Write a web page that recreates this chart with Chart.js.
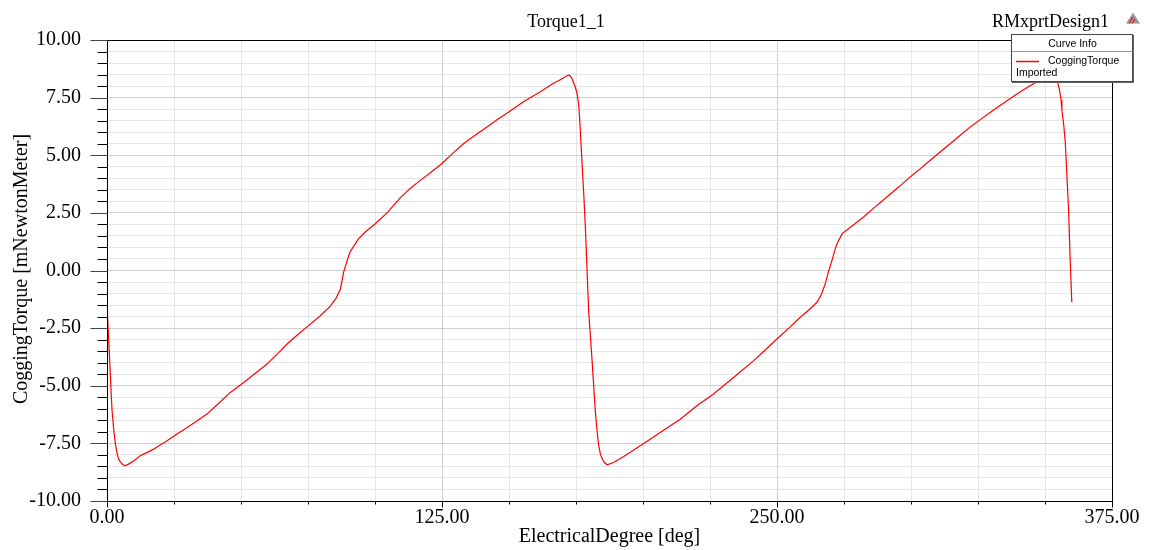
<!DOCTYPE html>
<html><head><meta charset="utf-8">
<script src="https://cdn.jsdelivr.net/npm/chart.js@4.4.1/dist/chart.umd.min.js"></script>
<style>html,body{margin:0;padding:0;background:#fff;} #wrap{width:1151px;height:550px;}</style>
</head><body><div id="wrap"><canvas id="c" width="1151" height="550"></canvas></div>
<script>
const chartTitle = 'Torque1_1';
const designName = 'RMxprtDesign1';
const xAxisTitle = 'ElectricalDegree [deg]';
const yAxisTitle = 'CoggingTorque [mNewtonMeter]';
const legendHeader = 'Curve Info';
const seriesName = 'CoggingTorque';
const seriesNote = 'Imported';
const xTickLabels = ['0.00', '125.00', '250.00', '375.00'];
const yTickLabels = ['-10.00', '-7.50', '-5.00', '-2.50', '0.00', '2.50', '5.00', '7.50', '10.00'];

const degrees = [0.0,0.5,1.0,1.5,1.9,2.5,3.1,3.7,4.3,5.0,5.9,6.8,8.0,9.9,12.4,14.8,17.4,20.0,22.4,26.0,29.9,33.5,37.3,41.5,46.0,51.0,55.5,59.7,63.5,67.2,71.2,75.2,79.6,83.3,85.5,87.1,88.3,89.6,90.5,91.4,93.9,96.4,100.1,104.5,109.4,113.0,116.9,121.0,125.0,129.0,133.1,137.5,141.8,145.8,149.9,155.4,161.7,166.6,169.5,171.6,172.5,173.5,174.7,175.4,176.0,176.5,177.2,177.9,178.5,179.1,179.7,180.4,181.0,181.6,182.2,182.8,183.4,184.1,184.7,185.6,186.6,189.0,192.8,196.4,200.0,206.4,213.9,220.1,226.3,233.8,241.3,245.6,250.0,254.4,258.7,262.0,264.9,266.5,268.0,269.2,270.5,271.5,272.4,274.3,277.4,282.3,286.5,291.0,295.5,299.7,303.5,307.2,311.0,314.7,318.4,322.1,326.5,330.8,335.8,340.8,344.0,347.0,350.0,352.0,353.3,354.5,355.4,356.0,356.3,357.0,357.6,358.2,358.8,359.4,360.0];
const torque = [-1.5,-2.7,-3.9,-5.2,-6.1,-6.9,-7.5,-7.9,-8.17,-8.3,-8.42,-8.47,-8.4,-8.26,-8.04,-7.9,-7.75,-7.56,-7.39,-7.1,-6.81,-6.53,-6.23,-5.78,-5.29,-4.86,-4.45,-4.06,-3.63,-3.19,-2.78,-2.39,-1.96,-1.55,-1.2,-0.8,-0.07,0.43,0.75,0.94,1.38,1.67,2.03,2.5,3.15,3.55,3.91,4.27,4.64,5.08,5.51,5.88,6.23,6.56,6.88,7.32,7.75,8.12,8.3,8.45,8.48,8.33,7.97,7.68,7.2,6.3,4.78,3.3,1.88,0.1,-1.74,-2.9,-3.91,-5.0,-6.09,-6.9,-7.54,-7.97,-8.15,-8.33,-8.43,-8.33,-8.07,-7.8,-7.53,-7.03,-6.45,-5.87,-5.36,-4.64,-3.91,-3.45,-2.97,-2.5,-2.03,-1.7,-1.38,-1.05,-0.58,-0.05,0.43,0.85,1.16,1.6,1.88,2.32,2.75,3.19,3.63,4.06,4.42,4.78,5.15,5.51,5.87,6.23,6.6,6.96,7.36,7.75,7.98,8.19,8.38,8.47,8.42,8.26,7.85,7.4,6.96,6.3,5.51,4.06,2.61,0.43,-1.38];

const SERIF = '"Liberation Serif", "Times New Roman", serif';
const SANS = '"Liberation Sans", Arial, sans-serif';
const isMajorX = v => Math.abs(v / 125 - Math.round(v / 125)) < 1e-6;
const isMajorY = v => Math.abs(v / 2.5 - Math.round(v / 2.5)) < 1e-6;

const deco = {
  id: 'deco',
  afterDraw(chart) {
    const { ctx, chartArea: a, scales: { x, y } } = chart;
    ctx.save();
    // frame
    ctx.strokeStyle = '#000'; ctx.lineWidth = 1;
    const L = Math.round(a.left) + 0.5, T = Math.round(a.top) + 0.5;
    const R = Math.round(a.right) + 0.5, B = Math.round(a.bottom) + 0.5;
    ctx.beginPath(); ctx.moveTo(L, T); ctx.lineTo(R, T); ctx.lineTo(R, B); ctx.lineTo(L, B); ctx.closePath(); ctx.stroke();
    // y ticks
    y.ticks.forEach(t => {
      const py = Math.round(y.getPixelForValue(t.value)) + 0.5;
      const major = isMajorY(t.value);
      ctx.strokeStyle = major ? '#444' : '#000';
      ctx.beginPath(); ctx.moveTo(L - (major ? 17 : 10), py); ctx.lineTo(L, py); ctx.stroke();
    });
    // x ticks
    x.ticks.forEach(t => {
      const px = Math.round(x.getPixelForValue(t.value)) + 0.5;
      const major = isMajorX(t.value);
      ctx.strokeStyle = '#000';
      ctx.beginPath(); ctx.moveTo(px, B); ctx.lineTo(px, B + (major ? 6 : 3)); ctx.stroke();
    });
    // titles
    ctx.fillStyle = '#000';
    ctx.font = '18px ' + SERIF;
    ctx.textBaseline = 'alphabetic';
    ctx.textAlign = 'center';
    ctx.fillText(chartTitle, 566, 27);
    ctx.textAlign = 'left';
    ctx.fillText(designName, 992, 27);
    ctx.font = '20px ' + SERIF;
    ctx.textAlign = 'center';
    ctx.fillText(xAxisTitle, (a.left + a.right) / 2, 542);
    ctx.save();
    ctx.translate(27, 269);
    ctx.rotate(-Math.PI / 2);
    ctx.fillText(yAxisTitle, 0, 0);
    ctx.restore();
    // icon
    ctx.fillStyle = '#9a9a9a';
    ctx.beginPath(); ctx.moveTo(1133, 12.5); ctx.lineTo(1140, 23.5); ctx.lineTo(1126, 23.5); ctx.closePath(); ctx.fill();
    ctx.strokeStyle = '#e02020'; ctx.lineWidth = 1.3;
    ctx.beginPath(); ctx.moveTo(1129, 23.5); ctx.lineTo(1133, 17); ctx.moveTo(1132, 23.5); ctx.lineTo(1135, 19); ctx.stroke();
    // legend box
    ctx.fillStyle = '#fff';
    ctx.fillRect(1012, 34, 121, 48);
    ctx.lineWidth = 1;
    ctx.strokeStyle = '#444';
    ctx.strokeRect(1011.5, 34.5, 121, 47);
    ctx.strokeStyle = '#999';
    ctx.beginPath(); ctx.moveTo(1012, 51.5); ctx.lineTo(1133, 51.5); ctx.stroke();
    ctx.strokeStyle = '#666';
    ctx.beginPath(); ctx.moveTo(1133.5, 35); ctx.lineTo(1133.5, 82.5); ctx.lineTo(1012, 82.5); ctx.stroke();
    ctx.fillStyle = '#000';
    ctx.font = '10.5px ' + SANS;
    ctx.textBaseline = 'middle';
    ctx.textAlign = 'center';
    ctx.fillText(legendHeader, 1072.5, 44);
    ctx.textAlign = 'left';
    ctx.fillText(seriesName, 1048, 61.5);
    ctx.fillText(seriesNote, 1016, 73);
    ctx.strokeStyle = '#ff0000'; ctx.lineWidth = 1.5;
    ctx.beginPath(); ctx.moveTo(1016, 61.5); ctx.lineTo(1039, 61.5); ctx.stroke();
    ctx.restore();
  }
};

new Chart(document.getElementById('c'), {
  type: 'scatter',
  data: {
    datasets: [{
      label: seriesName,
      data: degrees.map((d, i) => ({ x: d, y: torque[i] })),
      showLine: true,
      borderColor: '#ff0000',
      borderWidth: 1.2,
      pointRadius: 0,
      tension: 0,
      fill: false
    }]
  },
  options: {
    responsive: false,
    animation: false,
    devicePixelRatio: 1,
    layout: { padding: { left: 0, right: 39, top: 40, bottom: 0 } },
    plugins: { legend: { display: false }, tooltip: { enabled: false }, title: { display: false } },
    scales: {
      x: {
        type: 'linear', min: 0, max: 375,
        afterFit: s => { s.height = 49; },
        border: { display: false },
        grid: { drawTicks: false, color: c => isMajorX(c.tick.value) ? '#cfcfcf' : '#e5e5e5', lineWidth: 1 },
        ticks: {
          stepSize: 25, autoSkip: false, maxRotation: 0, padding: 5, maxTicksLimit: 100,
          color: '#000', font: { family: SERIF, size: 20 },
          callback: v => isMajorX(v) ? xTickLabels[Math.round(v / 125)] : ''
        }
      },
      y: {
        type: 'linear', min: -10, max: 10,
        afterFit: s => { s.width = 107; },
        border: { display: false },
        grid: { drawTicks: false, color: c => isMajorY(c.tick.value) ? '#cfcfcf' : '#e5e5e5', lineWidth: 1 },
        ticks: {
          stepSize: 0.5, autoSkip: false, padding: 26, maxTicksLimit: 100,
          color: '#000', font: { family: SERIF, size: 20 },
          callback: v => isMajorY(v) ? yTickLabels[Math.round((v + 10) / 2.5)] : ''
        }
      }
    }
  },
  plugins: [deco]
});
</script>
</body></html>
